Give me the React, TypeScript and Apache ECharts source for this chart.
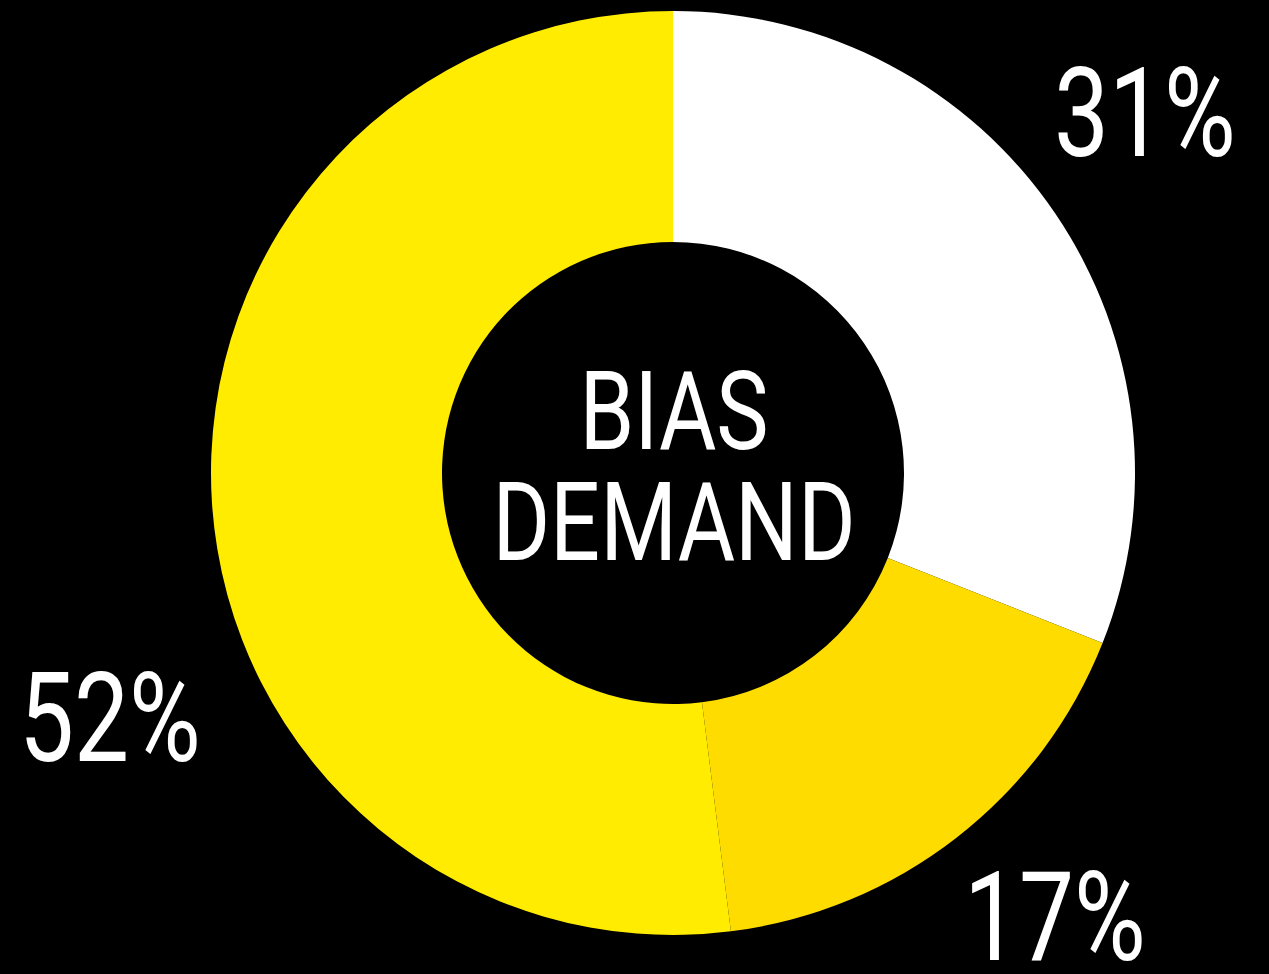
import React, { useEffect, useRef } from "react";
import * as echarts from "echarts";

const categories = ["White", "Gold", "Yellow"];
const values = [31, 17, 52];
const colors = ["#ffffff", "#ffdc00", "#ffec00"];
const centerLines = ["BIAS", "DEMAND"];

const FONT = "Roboto, 'Noto Sans', sans-serif";

export default function App() {
  const ref = useRef<HTMLDivElement>(null);
  useEffect(() => {
    if (!ref.current) return;
    const chart = echarts.init(ref.current, null, { renderer: "svg" });
    const labelPos = [
      { x: 1054, y: 113 },
      { x: 964, y: 917 },
      { x: 19, y: 718 },
    ];
    const labelTexts = values.map((v, i) => ({
      type: "text",
      x: labelPos[i].x,
      y: labelPos[i].y,
      scaleX: 0.79,
      style: {
        text: `${v}%`,
        fill: "#ffffff",
        font: `400 124px ${FONT}`,
        lineHeight: 100,
        align: "left",
        verticalAlign: "middle",
      },
    }));
    const centerY = [411, 522];
    const centerTexts = centerLines.map((t, i) => ({
      type: "text",
      x: 674,
      y: centerY[i],
      scaleX: 0.8,
      style: {
        text: t,
        fill: "#ffffff",
        font: `400 110px ${FONT}`,
        align: "center",
        verticalAlign: "middle",
      },
    }));
    chart.setOption({
      animation: false,
      backgroundColor: "#000000",
      graphic: [...centerTexts, ...labelTexts],
      series: [
        {
          type: "pie",
          center: [673, 473],
          radius: [231, 462],
          startAngle: 90,
          clockwise: true,
          itemStyle: { borderWidth: 0 },
          label: { show: false },
          labelLine: { show: false },
          data: categories.map((c, i) => ({
            name: c,
            value: values[i],
            itemStyle: { color: colors[i] },
          })),
        },
      ],
    });
    return () => chart.dispose();
  }, []);
  return (
    <div
      ref={ref}
      style={{ position: "absolute", left: 0, top: 0, width: 1269, height: 974 }}
    />
  );
}
